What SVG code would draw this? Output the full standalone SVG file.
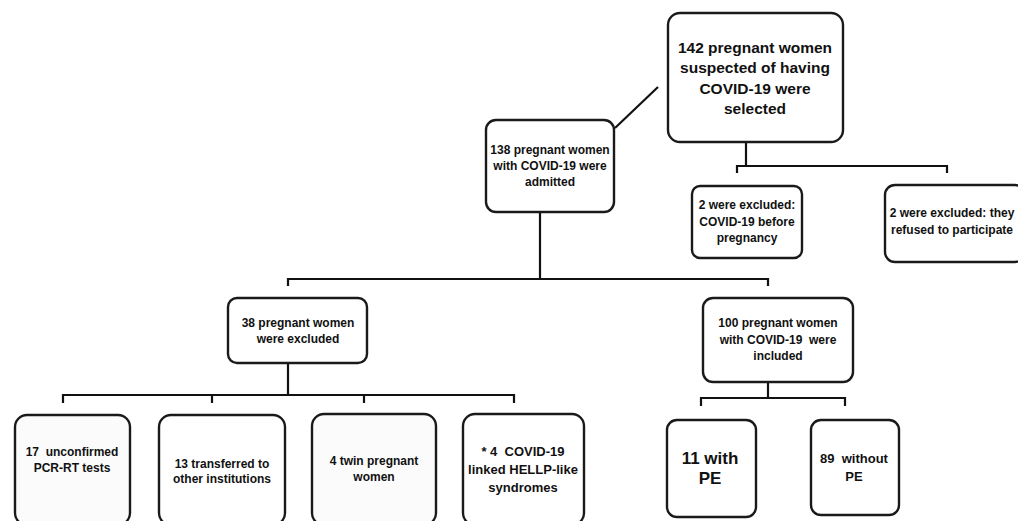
<svg xmlns="http://www.w3.org/2000/svg" width="1018" height="521" viewBox="0 0 1018 521">
<style>
.box{fill:#fff;stroke:#1a1a1a;stroke-width:2.4}
.ln{fill:none;stroke:#111;stroke-width:2.2}
text{font-family:"Liberation Sans",Arial,sans-serif;font-weight:bold;fill:#111;text-anchor:middle;dominant-baseline:central;white-space:pre}
.t12{font-size:12px}
.t13{font-size:13px}
.t15{font-size:15.5px}
.t17{font-size:17px}
</style>
<rect width="1018" height="521" fill="#fff"/>
<g id="connectors">
<polyline class="ln" points="615,128 658,87"/>
<polyline class="ln" points="746,142 746,166"/>
<polyline class="ln" points="737,173 737,166 947,166 947,173"/>
<polyline class="ln" points="540,212 540,279"/>
<polyline class="ln" points="288,286 288,279 768,279 768,286"/>
<polyline class="ln" points="288,363 288,395"/>
<polyline class="ln" points="63,403 63,395 514,395 514,403"/>
<polyline class="ln" points="212,395 212,403"/>
<polyline class="ln" points="364,395 364,403"/>
<polyline class="ln" points="768,382 768,398"/>
<polyline class="ln" points="701,406 701,398 845,398 845,406"/>
</g>
<g id="n142">
<rect class="box" x="668" y="13" width="175" height="129" rx="12"/>
<text class="t15" x="755" y="47">142 pregnant women</text>
<text class="t15" x="755" y="67">suspected of having</text>
<text class="t15" x="755" y="88">COVID-19 were</text>
<text class="t15" x="755" y="108">selected</text>
</g>
<g id="n138">
<rect class="box" x="486" y="120" width="128" height="92" rx="10"/>
<text class="t12" x="550" y="150">138 pregnant women</text>
<text class="t12" x="550" y="166">with COVID-19 were</text>
<text class="t12" x="550" y="182">admitted</text>
</g>
<g id="nex1">
<rect class="box" x="692" y="186" width="110" height="72" rx="8"/>
<text class="t12" x="747" y="205">2 were excluded:</text>
<text class="t12" x="747" y="222">COVID-19 before</text>
<text class="t12" x="747" y="238">pregnancy</text>
</g>
<g id="nex2">
<rect class="box" x="885" y="185" width="140" height="77" rx="10"/>
<text class="t12" x="952" y="213">2 were excluded: they</text>
<text class="t12" x="952" y="230">refused to participate</text>
</g>
<g id="n38">
<rect class="box" x="228" y="298" width="139" height="65" rx="9"/>
<text class="t12" x="298" y="323">38 pregnant women</text>
<text class="t12" x="298" y="339">were excluded</text>
</g>
<g id="n100">
<rect class="box" x="703" y="298" width="150" height="84" rx="10"/>
<text class="t12" x="778" y="323">100 pregnant women</text>
<text class="t12" x="778" y="340">with COVID-19  were</text>
<text class="t12" x="778" y="356">included</text>
</g>
<g id="n17">
<rect class="box" x="15" y="415" width="115" height="110" rx="12" style="fill:#fbfbfb"/>
<text class="t12" x="72" y="452">17  unconfirmed</text>
<text class="t12" x="72" y="468">PCR-RT tests</text>
</g>
<g id="n13">
<rect class="box" x="159" y="415" width="126" height="110" rx="12"/>
<text class="t12" x="222" y="464">13 transferred to</text>
<text class="t12" x="222" y="479">other institutions</text>
</g>
<g id="n4twin">
<rect class="box" x="312" y="414" width="124" height="111" rx="12" style="fill:#fbfbfb"/>
<text class="t12" x="374" y="461">4 twin pregnant</text>
<text class="t12" x="374" y="477">women</text>
</g>
<g id="nhellp">
<rect class="box" x="463" y="414" width="121" height="111" rx="12"/>
<text class="t13" x="523" y="451">* 4  COVID-19</text>
<text class="t13" x="523" y="469">linked HELLP-like</text>
<text class="t13" x="523" y="487">syndromes</text>
</g>
<g id="n11">
<rect class="box" x="667" y="420" width="89" height="97" rx="10"/>
<text class="t17" x="710" y="458">11 with</text>
<text class="t17" x="710" y="478">PE</text>
</g>
<g id="n89">
<rect class="box" x="811" y="420" width="88" height="95" rx="10"/>
<text class="t13" x="854" y="458">89  without</text>
<text class="t13" x="854" y="476">PE</text>
</g>
</svg>
